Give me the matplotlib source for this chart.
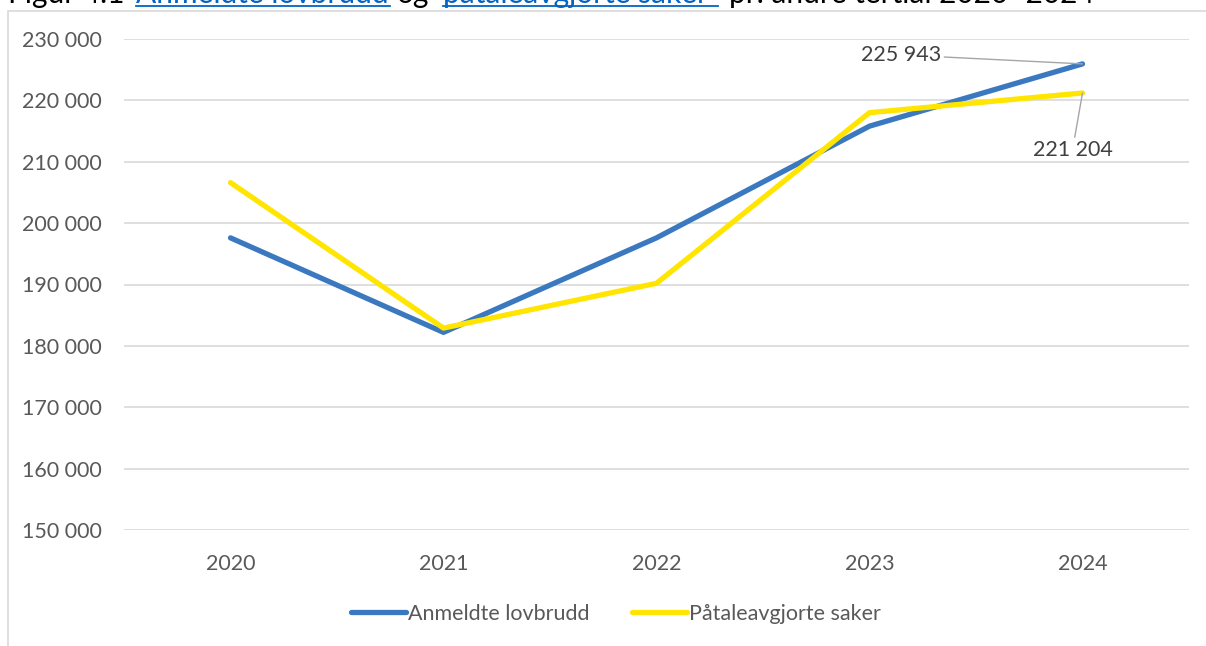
import matplotlib
matplotlib.use("Agg")
import matplotlib.pyplot as plt
from matplotlib.lines import Line2D
from matplotlib.patches import Rectangle

# data
years = ["2020", "2021", "2022", "2023", "2024"]
anmeldte = [197600, 182200, 197600, 215800, 225943]
pataleavgjorte = [206600, 182900, 190200, 218000, 221204]
yticks = [150000, 160000, 170000, 180000, 190000, 200000, 210000, 220000, 230000]

BLUE = "#3a78bf"
YELLOW = "#ffe500"
GREY_TXT = "#595959"
GRID = "#d9d9d9"
LINK = "#0563c1"
FS = 15.5

plt.rcParams["font.family"] = ["Lato", "DejaVu Sans"]

W, H = 1206, 646
fig = plt.figure(figsize=(W / 100, H / 100), dpi=100)
ax = fig.add_axes([124 / W, 1 - 530 / H, (1189 - 124) / W, (530 - 39) / H])

x = list(range(len(years)))
ax.plot(x, anmeldte, color=BLUE, lw=3.8, solid_capstyle="round",
        solid_joinstyle="round", label="Anmeldte lovbrudd", zorder=3)
ax.plot(x, pataleavgjorte, color=YELLOW, lw=3.8, solid_capstyle="round",
        solid_joinstyle="round", label="Påtaleavgjorte saker", zorder=3)

ax.set_xlim(-0.5, len(years) - 0.5)
ax.set_ylim(yticks[0], yticks[-1])
ax.set_yticks(yticks)
ax.set_yticklabels([f"{v:,}".replace(",", " ") for v in yticks])
ax.set_xticks(x)
ax.set_xticklabels(years)
ax.tick_params(axis="both", length=0, labelsize=FS, colors=GREY_TXT)
ax.tick_params(axis="y", pad=16)
ax.tick_params(axis="x", pad=17)
ax.grid(axis="y", color=GRID, lw=1.2)
ax.set_axisbelow(True)
for s in ax.spines.values():
    s.set_visible(False)

# data labels on the last point
ax.annotate(f"{anmeldte[-1]:,}".replace(",", " "), xy=(4, anmeldte[-1]),
            xytext=(-141, 9), textcoords="offset pixels", ha="right", va="center",
            fontsize=FS, color="#404040",
            arrowprops=dict(arrowstyle="-", color="#a6a6a6", lw=1,
                            shrinkA=0, shrinkB=0))
ax.annotate(f"{pataleavgjorte[-1]:,}".replace(",", " "), xy=(4, pataleavgjorte[-1]),
            xytext=(-10, -57), textcoords="offset pixels", ha="center", va="center",
            fontsize=FS, color="#404040",
            arrowprops=dict(arrowstyle="-", color="#a6a6a6", lw=1,
                            shrinkA=0, shrinkB=0))

fig.legend(loc="center", bbox_to_anchor=(616 / W, 1 - 614 / H), ncol=2,
           frameon=False, fontsize=FS, handlelength=2.55, handletextpad=0.12,
           columnspacing=1.95, labelcolor=GREY_TXT)

# chart frame
fig.patches.append(Rectangle((8 / W, -0.1), 1.2, 1.1 - 11 / H, transform=fig.transFigure,
                             fill=False, edgecolor=GRID, lw=1.2, zorder=0))

# title, cut off at the top edge as in the reference
ty = 1 - 3 / H
title_parts = [
    ("Figur 4.1", 125, "black", "right"),
    ("Anmeldte lovbrudd", 136, LINK, "left"),
    ("og", 397, "black", "left"),
    ("påtaleavgjorte saker", 443, LINK, "left"),
    ("pr. andre tertial 2020–2024", 729, "black", "left"),
]
for txt, px, col, ha in title_parts:
    fig.text(px / W, ty, txt, color=col, fontsize=21.5, va="baseline", ha=ha)
for x0, x1 in [(136, 390), (443, 718)]:
    fig.lines.append(Line2D([x0 / W, x1 / W], [1 - 5.5 / H] * 2, transform=fig.transFigure,
                            color=LINK, lw=1.3))

fig.savefig("out.png", dpi=100)
